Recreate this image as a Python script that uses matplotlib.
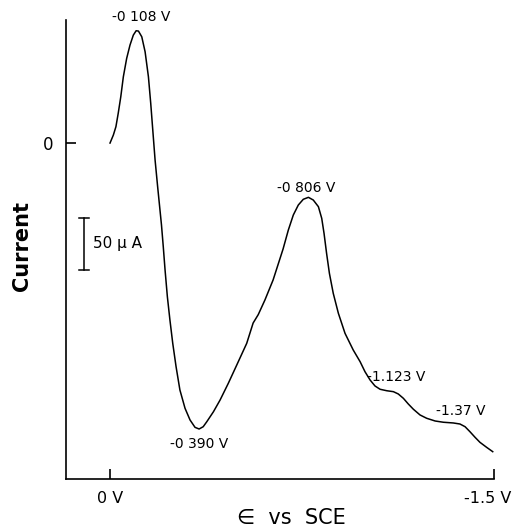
"""Polarogram-style current vs potential trace, redrawn from a scanned figure."""
import matplotlib
matplotlib.use("Agg")
import matplotlib.pyplot as plt
from matplotlib.transforms import ScaledTranslation

# potential (V vs SCE) and current (uA)
potential = [0.0, -0.013, -0.023, -0.032, -0.042, -0.052, -0.065, -0.078,
             -0.091, -0.102, -0.111, -0.124, -0.137, -0.150, -0.159, -0.167,
             -0.176, -0.186, -0.201, -0.208, -0.215, -0.224, -0.234, -0.245,
             -0.258, -0.273, -0.293, -0.3125, -0.332, -0.348, -0.364, -0.378,
             -0.404, -0.430, -0.462, -0.495, -0.534, -0.559, -0.579, -0.605,
             -0.637, -0.676, -0.6965, -0.716, -0.7355, -0.755, -0.775, -0.794,
             -0.814, -0.827, -0.836, -0.846, -0.857, -0.872, -0.892, -0.918,
             -0.950, -0.977, -0.996, -1.016, -1.035, -1.055, -1.081, -1.107,
             -1.126, -1.146, -1.165, -1.185, -1.211, -1.237, -1.270, -1.302,
             -1.341, -1.367, -1.387, -1.406, -1.426, -1.445, -1.471, -1.495]
current = [0.0, 7.7, 15.7, 28.6, 44.5, 63.7, 81.4, 94.2,
           103.8, 108.0, 107.7, 102.2, 87.8, 63.7, 38.2, 12.5,
           -16.3, -42.0, -78.8, -99.7, -122.1, -147.8, -170.2, -192.6,
           -215.1, -237.5, -255.1, -266.3, -273.4, -275.0, -272.8, -268.0,
           -258.4, -247.1, -231.1, -213.5, -192.6, -173.1, -165.0, -151.0,
           -131.7, -101.9, -83.7, -69.2, -59.6, -54.1, -52.2, -54.8,
           -61.2, -72.4, -86.8, -106.1, -125.3, -144.5, -163.7, -183.0,
           -199.0, -210.3, -219.9, -227.9, -233.6, -236.8, -238.2, -239.1,
           -241.3, -245.5, -250.9, -256.0, -261.5, -264.7, -267.3, -268.5,
           -269.2, -270.2, -272.8, -277.6, -283.0, -287.8, -292.6, -296.8]

# peak labels: (text, x, y) in data units
peak_labels = [("-0 108 V", -0.120, 121.0),
               ("-0 390 V", -0.348, -289.0),
               ("-0 806 V", -0.766, -43.0),
               ("-1.123 V", -1.117, -225.0),
               ("-1.37 V", -1.371, -258.0)]

xticks = [0.0, -1.5]
xticklabels = ["0 V", "-1.5 V"]
scale_ua = 50

fig = plt.figure(figsize=(5.14, 5.30), dpi=100)
ax = fig.add_axes([0.1284, 0.0962, 0.8327, 0.866])

ax.plot(potential, current, color="black", lw=1.1)

ax.set_xlim(0.172, -1.5)
ax.set_ylim(-323.1, 118.3)

for s in ("top", "right"):
    ax.spines[s].set_visible(False)
for s in ("left", "bottom"):
    ax.spines[s].set_linewidth(1.2)

ax.set_xticks(xticks)
ax.set_xticklabels(xticklabels, fontsize=11.5)
ax.set_yticks([0])
ax.set_yticklabels(["0"], fontsize=12)
ax.tick_params(axis="x", direction="in", length=7, width=1.2, pad=8.5)
ax.tick_params(axis="y", direction="in", length=7, width=1.2, pad=9)
lbl = ax.get_xticklabels()[1]
lbl.set_transform(lbl.get_transform()
                  + ScaledTranslation(-6 / 100, 0, fig.dpi_scale_trans))

for txt, x, y in peak_labels:
    ax.text(x, y, txt, ha="center", va="center", fontsize=10)

# 50 uA scale bar
bx, btop = 0.1016, -72.0
ax.plot([bx, bx], [btop, btop - scale_ua], color="black", lw=1.1)
for yy in (btop, btop - scale_ua):
    ax.plot([bx + 0.02, bx - 0.02], [yy, yy], color="black", lw=1.1)
ax.text(0.068, btop - scale_ua / 2, "50 \u03bc A", ha="left", va="center",
        fontsize=11)

ax.text(-0.103, 0.508, "Current", transform=ax.transAxes, rotation=90,
        ha="center", va="center", fontsize=15, fontweight="bold")
ax.text(0.526, -0.086, "\u2208  vs  SCE", transform=ax.transAxes,
        ha="center", va="center", fontsize=15)

fig.savefig("out.png", dpi=100)
